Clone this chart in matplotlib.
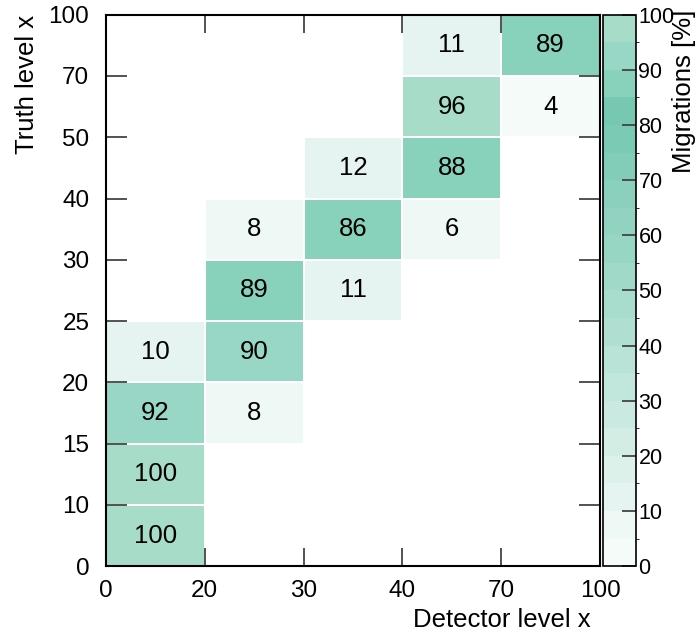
import numpy as np
import matplotlib
matplotlib.use("Agg")
import matplotlib.pyplot as plt
from matplotlib.colors import ListedColormap, BoundaryNorm

plt.rcParams['font.family'] = ['Liberation Sans', 'DejaVu Sans']

# bin edges (shown as equal-width bins)
x_edges = ['0', '20', '30', '40', '70', '100']
y_edges = ['0', '10', '15', '20', '25', '30', '40', '50', '70', '100']

# migrations in %, rows = truth bins (bottom to top), cols = detector bins
row_0_10 = [100, 0, 0, 0, 0]
row_10_15 = [100, 0, 0, 0, 0]
row_15_20 = [92, 8, 0, 0, 0]
row_20_25 = [10, 90, 0, 0, 0]
row_25_30 = [0, 89, 11, 0, 0]
row_30_40 = [0, 8, 86, 6, 0]
row_40_50 = [0, 0, 12, 88, 0]
row_50_70 = [0, 0, 0, 96, 4]
row_70_100 = [0, 0, 0, 11, 89]

migr = np.array([row_0_10, row_10_15, row_15_20, row_20_25, row_25_30,
                 row_30_40, row_40_50, row_50_70, row_70_100], dtype=float)

band_colors = ['#f5fbf9', '#eef8f5', '#e5f4f0', '#dcf1ea', '#d3ede5',
               '#cae9e0', '#c1e6db', '#b9e3d6', '#b0dfd1', '#a8dccc',
               '#a0d9c8', '#98d6c4', '#91d3c0', '#8ad0bc', '#82cdb8',
               '#7bcab4', '#76c8b1', '#88d1bb', '#98d6c5', '#a7dcc9']
cmap = ListedColormap(band_colors)
norm = BoundaryNorm(np.arange(0, 101, 5), cmap.N)

fig = plt.figure(figsize=(6.97, 6.39), dpi=100)
ax = fig.add_axes([0.152, 0.114, 0.709, 0.863])
cax = fig.add_axes([0.865, 0.114, 0.047, 0.863])

nx = len(x_edges) - 1
ny = len(y_edges) - 1
data = np.ma.masked_where(migr <= 0, migr)
mesh = ax.pcolormesh(np.arange(nx + 1), np.arange(ny + 1), data, cmap=cmap,
                     norm=norm, edgecolors='white', linewidth=1.2)

for j in range(ny):
    for i in range(nx):
        if migr[j, i] > 0:
            ax.text(i + 0.5, j + 0.5, '%d' % migr[j, i], ha='center',
                    va='center', fontsize=18.5)

ax.set_xlim(0, nx)
ax.set_ylim(0, ny)
ax.set_xticks(np.arange(nx + 1))
ax.set_xticklabels(x_edges)
ax.set_yticks(np.arange(ny + 1))
ax.set_yticklabels(y_edges)
ax.tick_params(direction='in', length=13, width=1.3, color='#444444',
               labelsize=17.5, top=True, right=True)
ax.tick_params(axis='x', pad=10)
ax.tick_params(axis='y', length=15, pad=12)
for s in ax.spines.values():
    s.set_linewidth(1.5)

cb = fig.colorbar(mesh, cax=cax, ticks=np.arange(0, 101, 10))
cb.outline.set_linewidth(1.2)
cax.tick_params(direction='in', length=10, width=1.3, color='#444444',
                labelsize=15.5, pad=2)

fig.text(0.039, 0.977, 'Truth level x', rotation=90, ha='center', va='top',
         fontsize=18.5)
fig.text(0.847, 0.030, 'Detector level x', ha='right', va='center',
         fontsize=18.5)
fig.text(0.982, 0.985, 'Migrations [%]', rotation=90, ha='center', va='top',
         fontsize=18.5)

fig.savefig('out.png', dpi=100)
